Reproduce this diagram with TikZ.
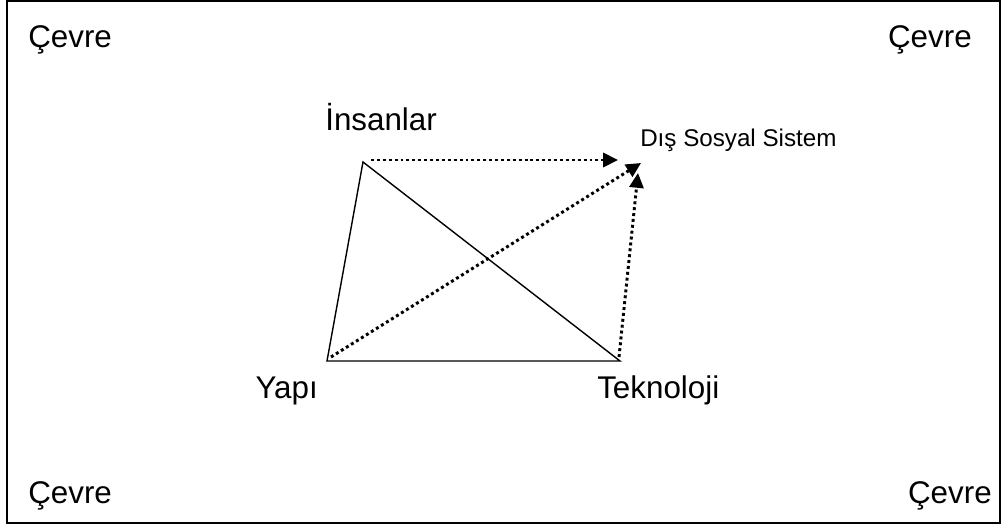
\documentclass[tikz,border=0pt]{standalone}
\usepackage{fontspec}
\setmainfont{Liberation Sans}
\usetikzlibrary{arrows.meta}

\begin{document}
\begin{tikzpicture}[x=0.025cm,y=-0.025cm,
  lbl/.style={font=\fontsize{22.3}{26}\selectfont,inner sep=0pt},
  lblsmall/.style={font=\fontsize{17.2}{20}\selectfont,inner sep=0pt},
  link/.style={line width=1pt,black},
  flow/.style={-{Triangle[length=10.5pt,width=10pt]},line width=2.1pt,dash pattern=on 2.1pt off 2.1pt},
]
\useasboundingbox (0,0) rectangle (1002,527);
\draw[line width=1.4pt] (7,1) rectangle (1000,523);
\node[lbl,anchor=base west] (cevreNW) at (28,47) {Çevre};
\node[lbl,anchor=base east] (cevreNE) at (972,47) {Çevre};
\node[lbl,anchor=base west] (cevreSW) at (28,503) {Çevre};
\node[lbl,anchor=base east] (cevreSE) at (992,503) {Çevre};
\node[lbl,anchor=base west] (insanlar) at (325,130) {İnsanlar};
\node[lbl,anchor=base east] (yapiText) at (318,398) {Yapı};
\node[lbl,anchor=base west] (teknoText) at (597,398) {Teknoloji};
\node[lblsmall,anchor=base west] (disSosyal) at (640,146) {Dış Sosyal Sistem};
% triangle corners
\coordinate (insan) at (363,162);
\coordinate (yapi) at (327,361);
\coordinate (tekno) at (620,361);
% arrow ends
\coordinate (insanOut) at (371,160);
\coordinate (yapiOut) at (331,357);
\coordinate (teknoOut) at (619,357);
\coordinate (disA) at (618,160);
\coordinate (disB) at (641,163);
\coordinate (disC) at (638,173);
\draw[link] (insan) -- (yapi) -- (tekno) -- cycle;
\draw[flow] (insanOut) -- (disA);
\draw[flow] (yapiOut) -- (disB);
\draw[flow] (teknoOut) -- (disC);
\end{tikzpicture}
\end{document}
